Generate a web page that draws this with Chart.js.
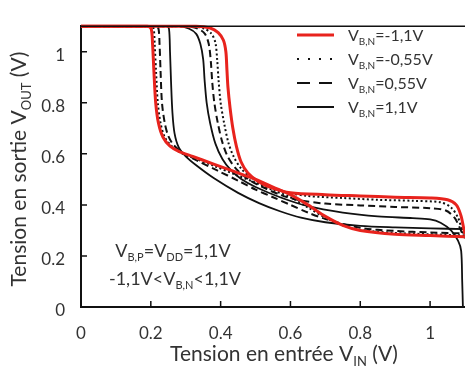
<!DOCTYPE html>
<html>
<head>
<meta charset="utf-8">
<script src="https://cdn.jsdelivr.net/npm/chart.js@4.4.1/dist/chart.umd.min.js"></script>
<style>
  html, body { margin: 0; padding: 0; background: #fff; }
  #wrap { width: 465px; height: 370px; }
</style>
</head>
<body>
<div id="wrap"><canvas id="c" width="465" height="370"></canvas></div>
<script>
// tick values and labels
const xTicks = [0, 0.2, 0.4, 0.6, 0.8, 1];
const yTicks = [0, 0.2, 0.4, 0.6, 0.8, 1];
const tickLabels = ['0', '0.2', '0.4', '0.6', '0.8', '1'];

// series names (V_B,N values)
const seriesNames = ['V_{B,N}=-1,1V', 'V_{B,N}=-0,55V', 'V_{B,N}=0,55V', 'V_{B,N}=1,1V'];

// [Vin, Vout], left transition branch of each loop
const redA = [[0,1.1],[0.19,1.1],[0.201,1.09],[0.205,1.03],[0.209,0.92],[0.214,0.8],[0.222,0.72],[0.235,0.665],[0.255,0.63],[0.28,0.61],[0.32,0.59],[0.38,0.56],[0.44,0.53],[0.5,0.5],[0.55,0.47],[0.6,0.44],[0.65,0.4],[0.7,0.355],[0.75,0.32],[0.8,0.3],[0.9,0.285],[1.0,0.28],[1.1,0.275]];
const dotA = [[0,1.1],[0.2,1.1],[0.208,1.09],[0.211,1.03],[0.215,0.92],[0.22,0.8],[0.228,0.72],[0.24,0.665],[0.26,0.63],[0.285,0.605],[0.32,0.585],[0.38,0.553],[0.44,0.52],[0.5,0.487],[0.55,0.458],[0.6,0.43],[0.65,0.39],[0.7,0.35],[0.75,0.32],[0.8,0.302],[0.9,0.29],[1.0,0.285],[1.1,0.28]];
const dashA = [[0,1.1],[0.215,1.1],[0.222,1.09],[0.225,1.03],[0.228,0.92],[0.232,0.8],[0.24,0.72],[0.25,0.67],[0.265,0.635],[0.29,0.605],[0.33,0.575],[0.39,0.535],[0.45,0.495],[0.5,0.46],[0.55,0.43],[0.6,0.4],[0.65,0.37],[0.7,0.345],[0.8,0.31],[0.9,0.298],[1.0,0.292],[1.1,0.288]];
const solidA = [[0,1.1],[0.245,1.1],[0.252,1.09],[0.255,1.0],[0.258,0.88],[0.262,0.76],[0.268,0.68],[0.28,0.625],[0.3,0.59],[0.33,0.555],[0.38,0.505],[0.45,0.447],[0.51,0.407],[0.57,0.375],[0.63,0.35],[0.7,0.332],[0.8,0.318],[0.9,0.312],[1.0,0.308],[1.1,0.305]];

// right transition branch of each loop
const redB = [[0,1.1],[0.33,1.1],[0.37,1.093],[0.393,1.075],[0.408,1.045],[0.415,1.0],[0.418,0.93],[0.421,0.86],[0.427,0.78],[0.435,0.7],[0.445,0.63],[0.458,0.57],[0.478,0.525],[0.51,0.49],[0.55,0.465],[0.6,0.448],[0.7,0.44],[0.8,0.435],[0.9,0.43],[1.0,0.427],[1.05,0.42],[1.075,0.4],[1.088,0.36],[1.096,0.31],[1.1,0.285]];
const dotB = [[0,1.1],[0.315,1.1],[0.35,1.092],[0.373,1.072],[0.385,1.035],[0.39,0.97],[0.394,0.89],[0.4,0.8],[0.41,0.72],[0.422,0.645],[0.437,0.59],[0.46,0.54],[0.49,0.505],[0.53,0.475],[0.58,0.452],[0.65,0.435],[0.75,0.427],[0.85,0.42],[0.95,0.416],[1.03,0.41],[1.06,0.39],[1.08,0.35],[1.092,0.3],[1.1,0.275]];
const dashB = [[0,1.1],[0.3,1.1],[0.335,1.09],[0.355,1.07],[0.366,1.03],[0.372,0.96],[0.376,0.88],[0.382,0.8],[0.392,0.72],[0.405,0.645],[0.42,0.59],[0.445,0.54],[0.48,0.5],[0.52,0.47],[0.57,0.44],[0.62,0.42],[0.7,0.405],[0.8,0.398],[0.9,0.392],[1.0,0.387],[1.045,0.378],[1.07,0.35],[1.085,0.31],[1.095,0.28],[1.1,0.27]];
const solidB = [[0,1.1],[0.28,1.1],[0.31,1.09],[0.33,1.07],[0.342,1.03],[0.35,0.97],[0.354,0.89],[0.36,0.8],[0.37,0.72],[0.385,0.64],[0.405,0.58],[0.43,0.535],[0.46,0.5],[0.5,0.47],[0.57,0.43],[0.65,0.395],[0.75,0.37],[0.85,0.355],[0.95,0.348],[1.0,0.343],[1.03,0.33],[1.06,0.3],[1.08,0.26],[1.089,0.22],[1.092,0.1],[1.094,0]];

const FONT = 'Lato, "Open Sans", sans-serif';
const TXT = '#333';
const RED = '#e8231d';

// one style per V_B,N value
const styles = [
  { color: RED, width: 3, dash: [], legendDash: [] },
  { color: '#111', width: 2, dash: [2, 2.5], legendDash: [2, 9] },
  { color: '#111', width: 2, dash: [7, 4], legendDash: [13, 9] },
  { color: '#111', width: 1.8, dash: [], legendDash: [] }
];
const branches = [[redA, redB], [dotA, dotB], [dashA, dashB], [solidA, solidB]];

const datasets = [];
branches.forEach((pair, i) => {
  pair.forEach(pts => {
    datasets.push({
      data: pts.map(p => ({ x: p[0], y: p[1] })),
      borderColor: styles[i].color,
      borderWidth: styles[i].width,
      borderDash: styles[i].dash,
      showLine: true,
      pointRadius: 0,
      tension: 0.3,
      clip: false
    });
  });
});

// draws text like 'V_{B,N}=1V' with subscripts
function rich(ctx, str, x, y, size, align) {
  const parts = [];
  str.split(/(_\{[^}]*\})/).forEach(s => {
    if (!s) return;
    if (s.startsWith('_{')) parts.push({ t: s.slice(2, -1), sub: true });
    else parts.push({ t: s, sub: false });
  });
  const subSize = Math.round(size * 0.62);
  let w = 0;
  parts.forEach(p => {
    ctx.font = (p.sub ? subSize : size) + 'px ' + FONT;
    p.w = ctx.measureText(p.t).width;
    w += p.w;
  });
  let cx = align === 'center' ? x - w / 2 : x;
  ctx.textAlign = 'left';
  ctx.textBaseline = 'alphabetic';
  parts.forEach(p => {
    ctx.font = (p.sub ? subSize : size) + 'px ' + FONT;
    ctx.fillText(p.t, cx, p.sub ? y + size * 0.22 : y);
    cx += p.w;
  });
}

const decor = {
  id: 'decor',
  afterDraw(chart) {
    const { ctx, chartArea: a, scales: { x, y } } = chart;
    ctx.save();
    ctx.strokeStyle = '#111';
    ctx.lineWidth = 1.5;
    ctx.setLineDash([]);
    ctx.beginPath();
    ctx.moveTo(a.left, a.top);
    ctx.lineTo(a.right, a.top);
    xTicks.forEach(v => {
      const px = x.getPixelForValue(v);
      ctx.moveTo(px, a.bottom);
      ctx.lineTo(px, a.bottom - 6);
    });
    yTicks.forEach(v => {
      const py = y.getPixelForValue(v);
      ctx.moveTo(a.left, py);
      ctx.lineTo(a.left + 6, py);
    });
    ctx.stroke();

    // legend
    const rows = [35, 59, 83, 107];
    seriesNames.forEach((name, i) => {
      const st = styles[i];
      ctx.strokeStyle = st.color;
      ctx.lineWidth = st.width;
      ctx.setLineDash(st.legendDash);
      ctx.beginPath();
      ctx.moveTo(297, rows[i]);
      ctx.lineTo(334, rows[i]);
      ctx.stroke();
      ctx.fillStyle = TXT;
      rich(ctx, name, 348, rows[i] + 6, 16);
    });
    ctx.setLineDash([]);

    // note in the plot
    ctx.fillStyle = TXT;
    rich(ctx, 'V_{B,P}=V_{DD}=1,1V', 173, 257, 18, 'center');
    rich(ctx, '-1,1V<V_{B,N}<1,1V', 175, 285, 18, 'center');

    // axis titles
    rich(ctx, 'Tension en entrée V_{IN} (V)', 284, 361, 21, 'center');
    ctx.translate(26, 169);
    ctx.rotate(-Math.PI / 2);
    rich(ctx, 'Tension en sortie V_{OUT} (V)', 0, 0, 21, 'center');
    ctx.restore();
  }
};

new Chart(document.getElementById('c'), {
  type: 'scatter',
  data: { datasets },
  options: {
    responsive: false,
    animation: false,
    layout: { padding: { top: 10, right: 0, left: 0, bottom: 0 } },
    plugins: { legend: { display: false }, tooltip: { enabled: false } },
    scales: {
      x: {
        type: 'linear', min: 0, max: 1.1,
        afterFit: s => { s.height = 63; },
        afterBuildTicks: s => { s.ticks = xTicks.map(v => ({ value: v })); },
        grid: { display: false, drawTicks: false },
        border: { display: true, color: '#111', width: 2 },
        ticks: { padding: 16, color: TXT, font: { family: FONT, size: 17 }, maxRotation: 0,
                 callback: (v, i) => tickLabels[i] }
      },
      y: {
        type: 'linear', min: 0, max: 1.1,
        afterFit: s => { s.width = 81; },
        afterBuildTicks: s => { s.ticks = yTicks.map(v => ({ value: v })); },
        grid: { display: false, drawTicks: false },
        border: { display: true, color: '#111', width: 2 },
        ticks: { padding: 16, labelOffset: 4, color: TXT, font: { family: FONT, size: 17 },
                 callback: (v, i) => tickLabels[i] }
      }
    }
  },
  plugins: [decor]
});
</script>
</body>
</html>
